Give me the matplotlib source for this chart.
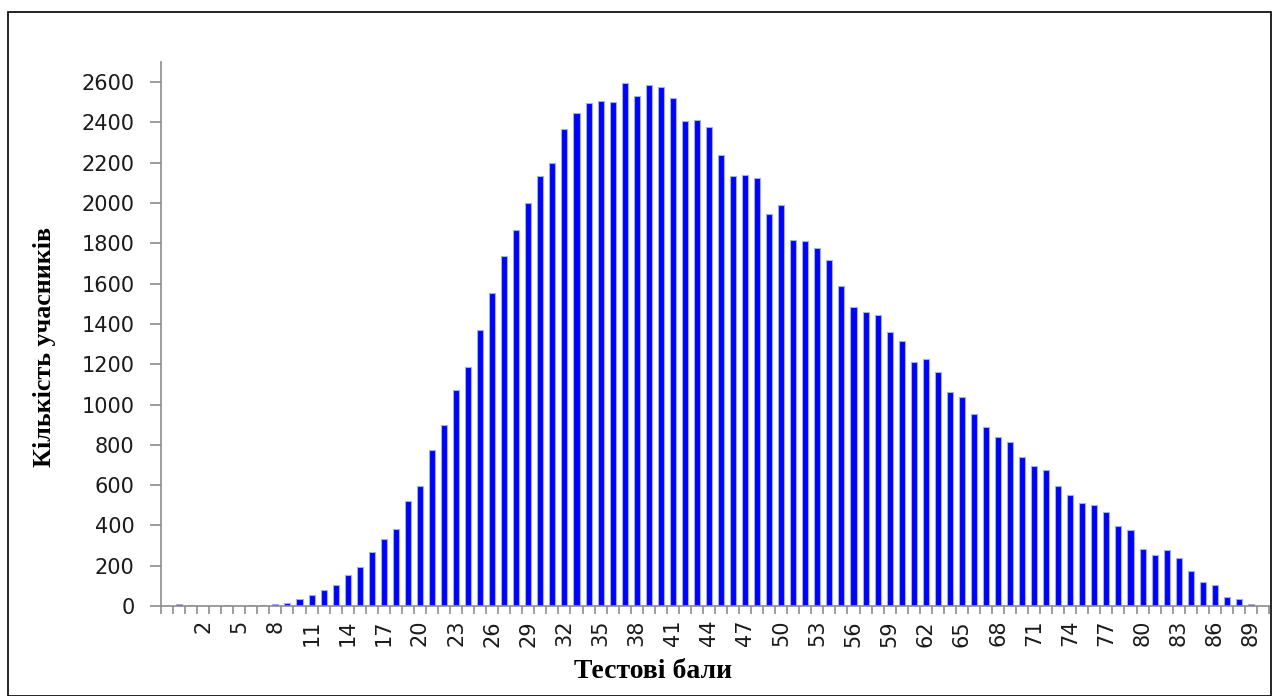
import matplotlib
matplotlib.use("Agg")
import matplotlib.pyplot as plt
from matplotlib.patches import Rectangle
from matplotlib.ticker import FixedLocator

# ---- data ----
scores = list(range(0, 90))
counts = [10, 5, 0, 0, 5, 0, 5, 5, 10, 16,
          33, 56, 79, 106, 156, 195, 268, 334, 384, 520,
          594, 773, 898, 1070, 1188, 1370, 1555, 1737, 1866, 1998,
          2134, 2200, 2367, 2445, 2495, 2506, 2500, 2596, 2530, 2584,
          2574, 2523, 2407, 2412, 2379, 2238, 2134, 2139, 2122, 1944,
          1989, 1815, 1810, 1777, 1716, 1588, 1482, 1459, 1443, 1360,
          1315, 1209, 1226, 1160, 1064, 1036, 952, 890, 837, 814,
          741, 696, 673, 597, 551, 513, 501, 468, 396, 379,
          284, 251, 279, 240, 172, 118, 106, 46, 33, 8]
xtick_labels = list(range(2, 90, 3))
yticks = list(range(0, 2601, 200))
x_title = "Тестові бали"
y_title = "Кількість учасників"

fig = plt.figure(figsize=(12.72, 6.96), dpi=100)
fig.patch.set_facecolor("white")
# outer frame
fig.add_artist(Rectangle((8 / 1272, 0.0), 1 - 9 / 1272, 1 - 12 / 696,
                         transform=fig.transFigure, fill=False,
                         edgecolor="black", linewidth=1.2))

ax = fig.add_axes([161 / 1272, 1 - 606 / 696, 1108 / 1272, (606 - 62) / 696])
ax.bar(scores, counts, width=0.5, color="#0000FF",
       edgecolor="#9db3dc", linewidth=0.8)

ax.set_xlim(-1.5, 90.5)
ax.set_ylim(0, 2700)

for s in ["top", "right"]:
    ax.spines[s].set_visible(False)
for s in ["left", "bottom"]:
    ax.spines[s].set_color("#8c8c8c")
    ax.spines[s].set_linewidth(1.2)

ax.set_yticks(yticks)
ax.tick_params(axis="y", direction="out", length=8, width=1.2,
               color="#8c8c8c", pad=11, labelsize=15, labelcolor="#1a1a1a")

ax.set_xticks(xtick_labels)
ax.set_xticklabels([str(v) for v in xtick_labels], rotation=90)
ax.xaxis.set_minor_locator(FixedLocator([i - 1.5 for i in range(0, 93)]))
ax.tick_params(axis="x", which="major", length=0, pad=10,
               labelsize=15, labelcolor="#1a1a1a")
ax.tick_params(axis="x", which="minor", direction="out", length=6,
               width=1.2, color="#8c8c8c")

fig.text(653 / 1272, 1 - 672 / 696, x_title, ha="center", va="center",
         fontsize=20, fontweight="bold", family="Liberation Serif")
fig.text(45 / 1272, 1 - 347 / 696, y_title, ha="center", va="center",
         rotation=90, fontsize=18.7, fontweight="bold", family="Liberation Serif")

fig.savefig("out.png", dpi=100)
